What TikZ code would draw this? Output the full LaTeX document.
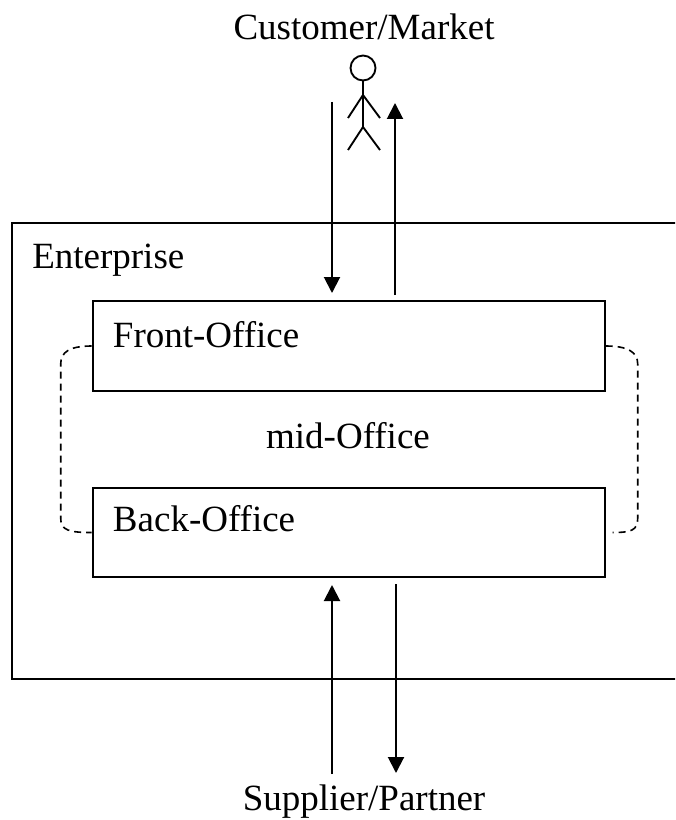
\documentclass[tikz,border=0pt]{standalone}
\usepackage{fontspec}
\setmainfont{Liberation Serif}
\usetikzlibrary{calc,arrows.meta}

\begin{document}
\begin{tikzpicture}[x=0.75pt, y=-0.75pt,
	txt/.style={font=\fontsize{27.75}{33}\selectfont, inner sep=0pt},
	office/.style={draw, line width=1.5pt, minimum width=384pt, inner sep=0pt, anchor=north west},
	flow/.style={line width=1.5pt, -{Triangle[length=12pt, width=12pt]}},
	midlink/.style={line width=1.2pt, dash pattern=on 5.25pt off 3.75pt}]
	%%%%% START %%%%%
	
	\useasboundingbox (0, 0) rectangle (675, 820);
	\clip (0, 0) rectangle (675, 820);
	
	\node[draw, line width=1.4pt, minimum width=516.75pt, minimum height=342pt, inner sep=0pt, anchor=north west] (ent) at (11, 222) {};
	\node[txt, anchor=base west] (entlabel) at ($(ent.north west)+(21, 46)$) {Enterprise};
	
	\node[office, minimum height=67.5pt] (front) at (91.7, 300) {};
	\node[txt, anchor=base west] (frontlabel) at ($(front.north west)+(21, 47)$) {Front-Office};
	
	\node[office, minimum height=66.75pt] (back) at (91.7, 487) {};
	\node[txt, anchor=base west] (backlabel) at ($(back.north west)+(21, 44)$) {Back-Office};
	
	\node[txt, anchor=base] (mid) at (348, 448) {mid-Office};
	
	\node[txt, anchor=base] (cust) at (364, 40) {Customer/Market};
	\node[txt, anchor=base] (suppl) at (364, 810) {Supplier/Partner};
	
	% stick figure
	\draw[line width=1.4pt] (363, 68) circle (12.5);
	\draw[line width=1.4pt] (363, 80.5) -- (363, 127);
	\draw[line width=1.4pt] (348, 118) -- (363, 95) -- (380, 118);
	\draw[line width=1.4pt] (348, 150) -- (363, 127) -- (380, 150);
	
	\coordinate (custin) at (332, 102);
	\coordinate (custout) at (395, 103);
	\coordinate (supout) at (332, 774);
	\coordinate (supin) at (396, 773);
	
	\draw[flow, shorten >=5.25pt] (custin) -- (custin |- front.north);
	\draw[flow, shorten <=3.75pt] (custout |- front.north) -- (custout);
	\draw[flow, shorten >=5.25pt] (supout) -- (supout |- back.south);
	\draw[flow, shorten <=4.5pt] (supin |- back.south) -- (supin);
	
	\draw[midlink] (front.west) .. controls +(-22, 0) and +(0, -12) .. ++(-31, 18)
		-- ($(back.west)+(-31, -14)$) .. controls +(0, 12) and +(-22, 0) .. (back.west);
	\draw[midlink] (front.east) .. controls +(22, 0) and +(0, -12) .. ++(32, 18)
		-- ($(back.east)+(32, -14)$) .. controls +(0, 12) and +(18, 0) .. ($(back.east)+(7, 0)$);
	
	%%%%% END %%%%%
\end{tikzpicture}
\end{document}
